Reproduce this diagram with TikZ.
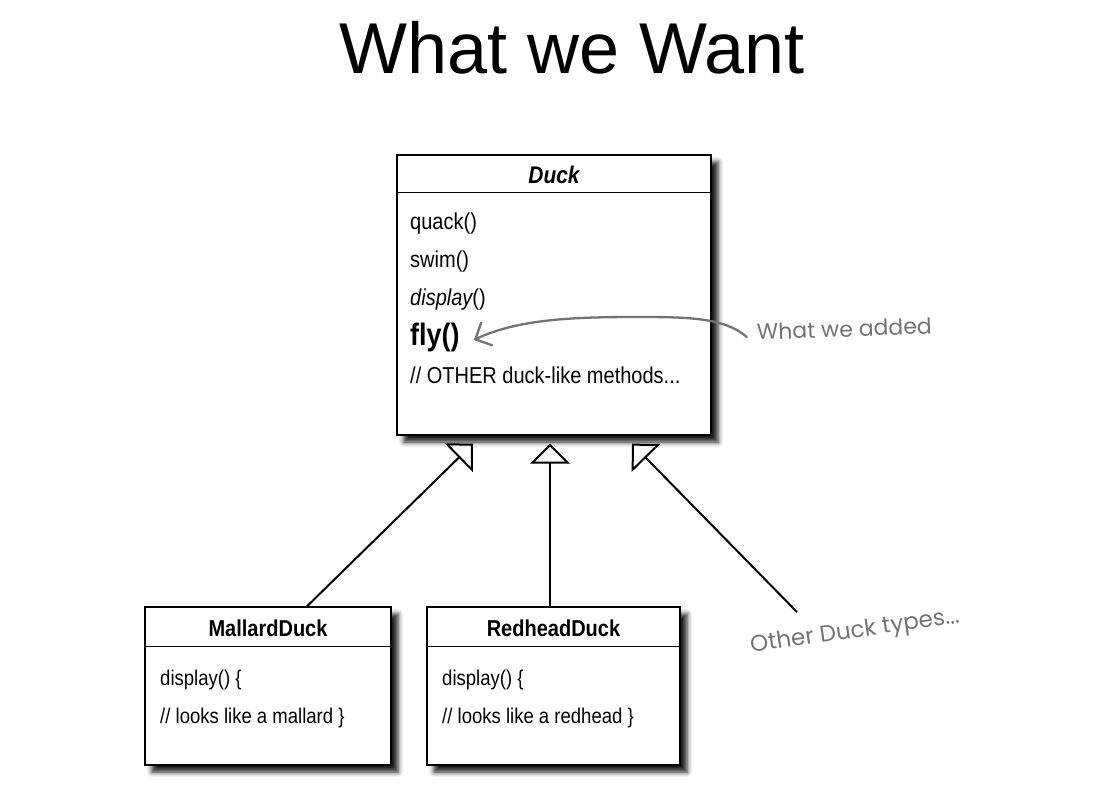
\documentclass[tikz,border=0pt]{standalone}
\usepackage{fontspec}
\setmainfont{Liberation Sans}
\newfontfamily\narrowfont{Liberation Sans}[FakeStretch=0.87]
\newfontfamily\handfont{Poppins}
\usetikzlibrary{arrows.meta,calc,shadows.blur}
\definecolor{handgray}{RGB}{115,115,115}
\begin{document}
\begin{tikzpicture}[x=1pt,y=-1pt,
  box/.style={draw=black, line width=1.4pt, fill=white, inner sep=0pt,
    blur shadow={shadow xshift=7pt, shadow yshift=-7pt, shadow blur radius=5pt, shadow opacity=90}},
  sep/.style={line width=1.4pt},
  txt/.style={inner sep=0pt, anchor=base west, font=\narrowfont\fontsize{23}{26}\selectfont},
  small/.style={inner sep=0pt, anchor=base west, font=\narrowfont\fontsize{21.3}{24}\selectfont},
  ttl/.style={inner sep=0pt, anchor=base, font=\narrowfont\fontsize{23}{26}\selectfont\bfseries},
  hand/.style={inner sep=0pt, text=handgray, font=\handfont\fontsize{22}{25}\selectfont},
  handline/.style={draw=handgray, line width=2.3pt, line cap=round,
    -{Straight Barb[length=13pt, width=26pt, line width=2.3pt]}},
  inh/.style={line width=2pt, -{Triangle[open, length=20pt, width=40pt, line width=2pt]}}
]
\useasboundingbox (0,0) rectangle (1115,787);

\node[inner sep=0pt, anchor=base, font=\fontsize{72}{80}\selectfont] (title) at (572,73) {What we Want};

% Duck
\node[box, minimum width=314pt, minimum height=280pt] (duck) at (554,295) {};
\draw[sep] ($(duck.north west)+(0,38)$) -- ($(duck.north east)+(0,38)$);
\node[ttl, font=\narrowfont\fontsize{24}{27}\selectfont\bfseries\itshape] (duckname) at (554,183) {Duck};
\node[txt] (quack) at (410,229) {quack()};
\node[txt] (swim) at (410,267) {swim()};
\node[txt] (display) at (410,305) {\itshape display\upshape()};
\node[txt, font=\narrowfont\fontsize{31}{34}\selectfont\bfseries] (fly) at (410,345) {fly()};
\node[txt] (other) at (410,383) {// OTHER duck-like methods...};

% Mallard
\node[box, minimum width=246pt, minimum height=158pt] (mallard) at (268,686) {};
\draw[sep] ($(mallard.north west)+(0,40)$) -- ($(mallard.north east)+(0,40)$);
\node[ttl] (mname) at (268,636) {MallardDuck};
\node[small] (mdisp) at (160,685) {display() \{};
\node[small] (mlooks) at (160,723) {// looks like a mallard \}};

% Redhead
\node[box, minimum width=253pt, minimum height=158pt] (redhead) at (553.5,686) {};
\draw[sep] ($(redhead.north west)+(0,40)$) -- ($(redhead.north east)+(0,40)$);
\node[ttl] (rname) at (553.5,636) {RedheadDuck};
\node[small] (rdisp) at (442,685) {display() \{};
\node[small] (rlooks) at (442,723) {// looks like a redhead \}};

% inheritance
\draw[inh] ($(mallard.north)+(39,0)$) -- ($(duck.south)+(-81,8)$);
\draw[inh] ($(redhead.north)+(-3.5,0)$) -- ($(duck.south)+(-4,8)$);
\coordinate (othersend) at (797,612);
\draw[inh] (othersend) -- ($(duck.south)+(78,8)$);

% annotations
\node[hand, anchor=base west, rotate=2] (added) at (757,340) {What we added};
\node[hand, font=\handfont\fontsize{23}{26}\selectfont, rotate=8] (othertypes) at (855,632) {Other Duck types...};
\draw[handline] ($(added.west)+(-10,5)$) .. controls (725,318) and (690,317) .. (640,317)
  .. controls (580,317) and (520,318) .. ($(fly.base east)+(14,-5)$);
\end{tikzpicture}
\end{document}
